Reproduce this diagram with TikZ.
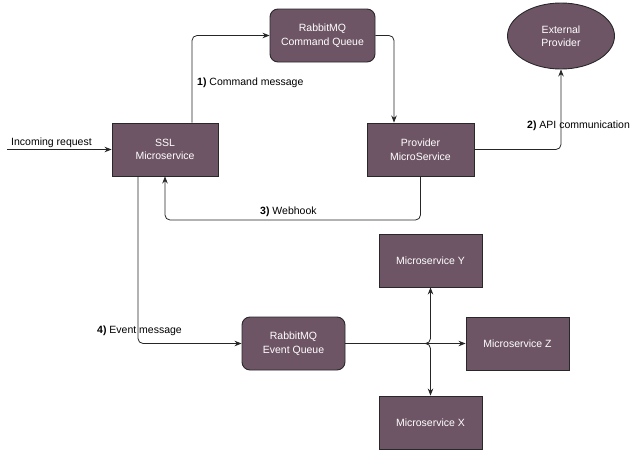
\documentclass[tikz,border=0pt]{standalone}
\usepackage{fontspec}
\setmainfont{Liberation Sans}
\usetikzlibrary{arrows.meta,shapes.geometric}
\definecolor{boxfill}{RGB}{110,85,102}
\definecolor{boxline}{RGB}{40,40,40}
\tikzset{
  svc/.style={draw=boxline, fill=boxfill, line width=0.9pt, text=white, align=center,
    minimum width=104pt, minimum height=53pt, inner sep=0pt, font=\fontsize{10.5}{13.5}\selectfont},
  queue/.style={svc, rounded corners=8pt},
  extbox/.style={svc, ellipse},
  lbl/.style={anchor=west, inner sep=0pt, font=\fontsize{10.5}{13}\selectfont},
  arr/.style={draw=black!85, line width=0.8pt, rounded corners=5pt, -{Stealth[length=7pt,width=5.5pt]}}
}
\begin{document}
\begin{tikzpicture}[x=1pt,y=-1pt]
\useasboundingbox (0,0) rectangle (634,450);
\node[queue, minimum width=105pt] (cmd) at (322.5,35.5) {RabbitMQ\\Command Queue};
\node[svc, minimum width=106pt] (ssl) at (165,149.5) {SSL\\Microservice};
\node[svc, minimum width=107pt] (prov) at (420.5,149.5) {Provider\\MicroService};
\node[extbox, minimum width=107pt, minimum height=66pt] (ext) at (561,36) {External\\Provider};
\node[queue, minimum width=103pt] (evq) at (293.5,343.5) {RabbitMQ\\Event Queue};
\node[svc, minimum width=103pt] (msy) at (430.5,260.5) {Microservice Y};
\node[svc, minimum width=103pt] (msz) at (517.5,343.5) {Microservice Z};
\node[svc, minimum width=103pt] (msx) at (430.5,422.5) {Microservice X};

\coordinate (in) at (7,149.5);
\coordinate (wh) at (420.5,220);

\draw[arr] (in) -- (ssl.west);
\draw[arr] ([xshift=27pt]ssl.north) |- (cmd.west);
\draw[arr] (cmd.east) -| ([xshift=-26.5pt]prov.north);
\draw[arr] (prov.east) -| (ext.south);
\draw[arr] (prov.south) -- (wh) -| (ssl.south);
\draw[arr] ([xshift=-27pt]ssl.south) |- (evq.west);
\draw[arr] (evq.east) -- (msz.west);
\draw[arr] (evq.east) -| (msy.south);
\draw[arr] (evq.east) -| (msx.north);

\node[lbl] (l0) at (11,143) {Incoming request};
\node[lbl] (l1) at (197,83) {\textbf{1)} Command message};
\node[lbl] (l2) at (527,126) {\textbf{2)} API communication};
\node[lbl] (l3) at (260,212) {\textbf{3)} Webhook};
\node[lbl] (l4) at (97,331) {\textbf{4)} Event message};
\end{tikzpicture}
\end{document}
